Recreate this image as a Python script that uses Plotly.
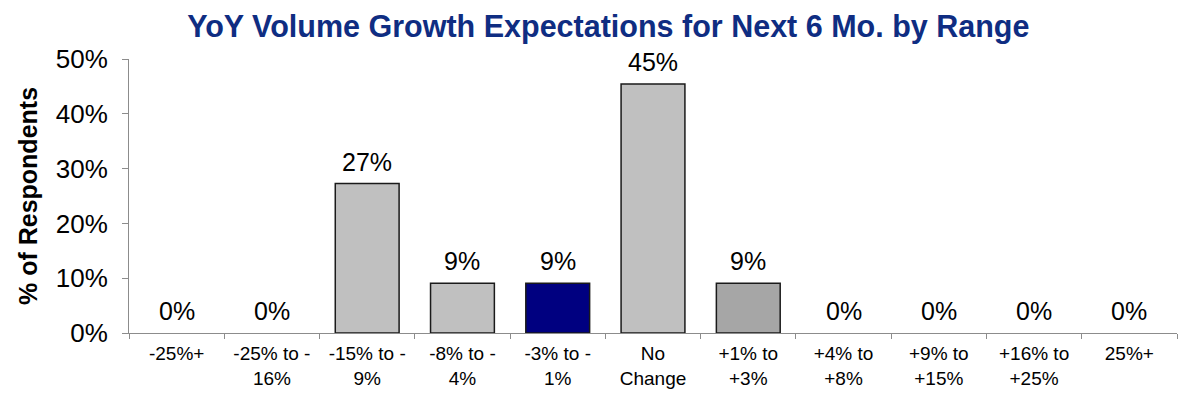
import plotly.graph_objects as go

categories = ["-25%+", "-25% to -<br>16%", "-15% to -<br>9%", "-8% to -<br>4%", "-3% to -<br>1%",
              "No<br>Change", "+1% to<br>+3%", "+4% to<br>+8%", "+9% to<br>+15%", "+16% to<br>+25%", "25%+"]
values = [0.0, 0.0, 0.2727, 0.0909, 0.0909, 0.4545, 0.0909, 0.0, 0.0, 0.0, 0.0]
labels = ["0%", "0%", "27%", "9%", "9%", "45%", "9%", "0%", "0%", "0%", "0%"]
colors = ["#C0C0C0"] * 4 + ["#000080", "#C0C0C0", "#A6A6A6"] + ["#C0C0C0"] * 4
y_ticks = [0, 0.1, 0.2, 0.3, 0.4, 0.5]
y_tick_labels = ["0%", "10%", "20%", "30%", "40%", "50%"]

line_widths = [1.5 if v > 0 else 0 for v in values]

fig = go.Figure(go.Bar(
    x=categories, y=values,
    marker=dict(color=colors, line=dict(color="#1a1a1a", width=line_widths)),
    hoverinfo="x+y",
))

for c, v, t in zip(categories, values, labels):
    fig.add_annotation(x=c, y=v, text=t, showarrow=False, yanchor="bottom", yshift=6,
                       font=dict(size=25, color="#000000", family="Liberation Sans, Arial"))

# page body has an 8px margin, so the figure is sized to fit inside it
fig.update_layout(
    width=1184, height=382,
    margin=dict(l=121, r=15, t=51, b=57),
    paper_bgcolor="white", plot_bgcolor="white",
    bargap=0.33, showlegend=False,
    font=dict(family="Liberation Sans, Arial", color="#000000"),
    title=dict(text="<b>YoY Volume Growth Expectations for Next 6 Mo. by Range</b>",
               x=0.507, xanchor="center", y=0.953, yanchor="middle",
               font=dict(size=30.5, color="#0F2D82", family="Liberation Sans, Arial")),
    xaxis=dict(showline=True, linecolor="#8c8c8c", linewidth=1, ticks="outside",
               tickson="boundaries", ticklen=5, tickcolor="#8c8c8c",
               tickfont=dict(size=19), ticklabelstandoff=3,
               showgrid=False, automargin=False),
    yaxis=dict(range=[0, 0.5], tickvals=y_ticks, ticktext=y_tick_labels,
               showline=True, linecolor="#8c8c8c", linewidth=1, ticks="outside",
               ticklen=6, tickcolor="#8c8c8c", tickfont=dict(size=26), showgrid=False,
               ticklabelstandoff=9,
               zeroline=False, automargin=False,
               title=dict(text="<b>% of Respondents</b>", font=dict(size=25), standoff=11)),
)

fig.write_html("out.html")
